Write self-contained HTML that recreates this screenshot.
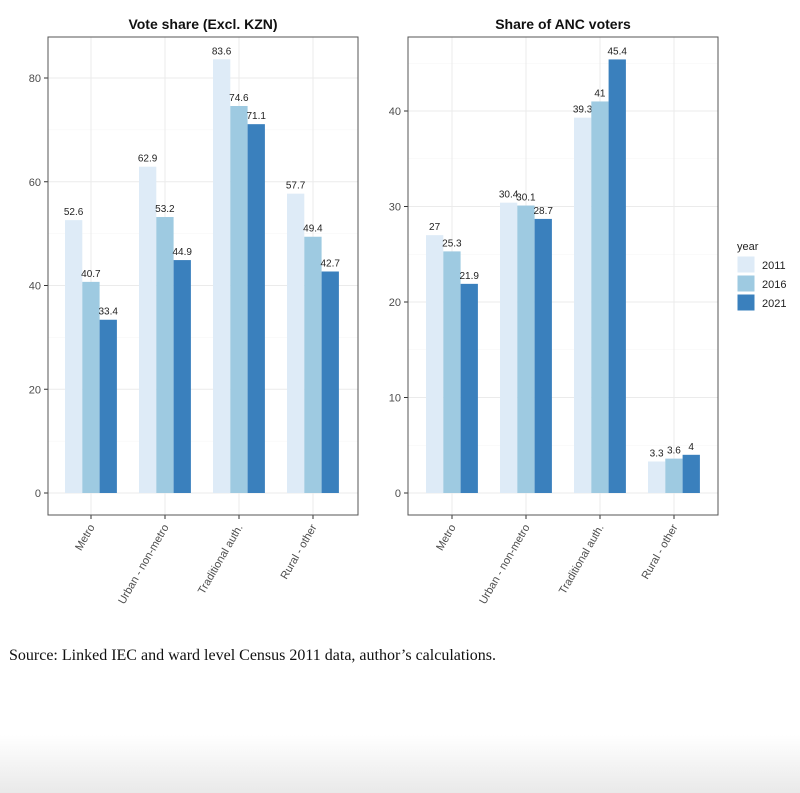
<!DOCTYPE html>
<html><head><meta charset="utf-8"><style>
body{margin:0;background:#fff;width:800px;height:793px;overflow:hidden;position:relative}
#fade{position:absolute;left:0;top:735px;width:800px;height:58px;background:linear-gradient(#fff,#e9e9e9)}
</style></head><body>
<div id="fade"></div>
<svg id="s" width="800" height="793" style="position:absolute;left:0;top:0" font-family="Liberation Sans, sans-serif"></svg>
<script>
const s=document.getElementById('s');let h='';
const cols=['#deebf7','#9ecae1','#3a80bd'];
function panel(x0,x1,yTop,yBot,zeroY,unit,ticks,data,title,cx){
  h+=`<rect x="${x0}" y="${yTop}" width="${x1-x0}" height="${yBot-yTop}" fill="#fff"/>`;
  // grid
  ticks.forEach(t=>{let y=zeroY-t*unit;h+=`<line x1="${x0}" x2="${x1}" y1="${y}" y2="${y}" stroke="#ebebeb" stroke-width="1"/>`;
    let ym=zeroY-(t+ticks[1]/2)*unit; if(ym>yTop) h+=`<line x1="${x0}" x2="${x1}" y1="${ym}" y2="${ym}" stroke="#f5f5f5" stroke-width="0.6"/>`;
    h+=`<line x1="${x0-4}" x2="${x0}" y1="${y}" y2="${y}" stroke="#333"/><text x="${x0-7}" y="${y+4}" font-size="11" fill="#4d4d4d" text-anchor="end">${t}</text>`;});
  const cats=['Metro','Urban - non-metro','Traditional auth.','Rural - other'];
  cx.forEach((c,i)=>{h+=`<line x1="${c}" x2="${c}" y1="${yTop}" y2="${yBot}" stroke="#ebebeb"/>`;});
  cx.forEach((c,i)=>{
    data[i].forEach((v,j)=>{let bx=c-26+j*17.3,by=zeroY-v*unit;
      h+=`<rect x="${bx}" y="${by}" width="17.3" height="${zeroY-by}" fill="${cols[j]}"/>`;
      h+=`<text x="${bx+8.6}" y="${by-5}" font-size="10" fill="#222" text-anchor="middle">${v}</text>`;});
    h+=`<line x1="${c}" x2="${c}" y1="${yBot}" y2="${yBot+4}" stroke="#333"/>`;
    h+=`<text transform="translate(${c+4},${yBot+12}) rotate(-60)" font-size="11" fill="#4d4d4d" text-anchor="end">${cats[i]}</text>`;
  });
  h+=`<rect x="${x0}" y="${yTop}" width="${x1-x0}" height="${yBot-yTop}" fill="none" stroke="#555" stroke-width="1"/>`;
  h+=`<text x="${(x0+x1)/2}" y="${yTop-8}" font-size="14" font-weight="bold" fill="#111" text-anchor="middle">${title}</text>`;
}
panel(48,358,37,515,493,5.1875,[0,20,40,60,80],[[52.6,40.7,33.4],[62.9,53.2,44.9],[83.6,74.6,71.1],[57.7,49.4,42.7]],'Vote share (Excl. KZN)',[91,165,239,313]);
panel(408,718,37,515,493,9.55,[0,10,20,30,40],[[27,25.3,21.9],[30.4,30.1,28.7],[39.3,41,45.4],[3.3,3.6,4]],'Share of ANC voters',[452,526,600,674]);
h+=`<text x="737" y="250" font-size="11" fill="#222">year</text>`;
['2011','2016','2021'].forEach((t,i)=>{let y=256+i*19;h+=`<rect x="737" y="${y}" width="18" height="17" fill="${cols[i]}" stroke="#fff"/><text x="762" y="${y+13}" font-size="11" fill="#222">${t}</text>`;});
h+=`<text x="9" y="660" font-family="Liberation Serif, serif" font-size="16" fill="#111">Source: Linked IEC and ward level Census 2011 data, author’s calculations.</text>`;
s.innerHTML=h;
</script>
</body></html>
